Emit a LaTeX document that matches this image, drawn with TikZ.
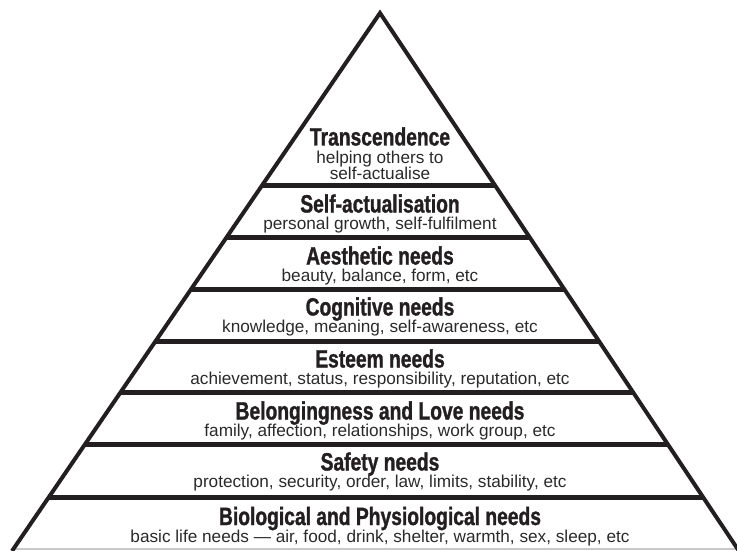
\documentclass[tikz,border=0pt]{standalone}
\usepackage{fontspec}
\setmainfont{Liberation Sans}
\newfontfamily\titlefont{Liberation Sans}[FakeStretch=0.77,FakeBold=1.2]
\usetikzlibrary{calc}
\definecolor{ink}{HTML}{231F20}
\definecolor{subink}{HTML}{2A2A2A}
\definecolor{basegray}{HTML}{C8C8C8}
\tikzset{
  edge/.style={draw=ink, line width=4pt, line join=miter},
  bandline/.style={draw=ink, line width=5pt},
  ttl/.style={anchor=base, inner sep=0pt, text=ink, font=\titlefont\bfseries\fontsize{25}{27}\selectfont},
  sub/.style={anchor=base, inner sep=0pt, text=subink, font=\fontsize{17.2}{16}\selectfont},
}
\begin{document}
\begin{tikzpicture}[x=1pt,y=-1pt]
\useasboundingbox (0,0) rectangle (737,551);
\coordinate (apex) at (380,13);
\coordinate (bl) at (12,551);
\coordinate (br) at (739,551);
% base line
\draw[basegray, line width=1.5pt] ($(apex)!0.9963!(bl)$) -- ($(apex)!0.9963!(br)$);
% band lines
\foreach \yy in {186,238,290,341,393,445,497}{
  \pgfmathsetmacro{\ff}{(\yy-13)/538}
  \draw[bandline] ($(apex)!\ff!(bl)$) -- ($(apex)!\ff!(br)$);
}
% pyramid edges
\draw[edge] (bl) -- (apex) -- (br);
% texts
\node[ttl] (t1) at (380,145.5) {Transcendence};
\node[sub] (s1a) at (380,163) {helping others to};
\node[sub] (s1b) at (380,179) {self-actualise};
\node[ttl] (t2) at (380,212.5) {Self-actualisation};
\node[sub] (s2) at (380,229.5) {personal growth, self-fulfilment};
\node[ttl] (t3) at (380,264.5) {Aesthetic needs};
\node[sub] (s3) at (380,281.5) {beauty, balance, form, etc};
\node[ttl] (t4) at (380,315.5) {Cognitive needs};
\node[sub] (s4) at (380,332.5) {knowledge, meaning, self-awareness, etc};
\node[ttl] (t5) at (380,367.5) {Esteem needs};
\node[sub] (s5) at (380,384.5) {achievement, status, responsibility, reputation, etc};
\node[ttl] (t6) at (380,419.5) {Belongingness and Love needs};
\node[sub] (s6) at (380,436.5) {family, affection, relationships, work group, etc};
\node[ttl] (t7) at (380,470.5) {Safety needs};
\node[sub] (s7) at (380,487.5) {protection, security, order, law, limits, stability, etc};
\node[ttl] (t8) at (380,525) {Biological and Physiological needs};
\node[sub] (s8) at (380,542.5) {basic life needs --- air, food, drink, shelter, warmth, sex, sleep, etc};
\end{tikzpicture}
\end{document}
